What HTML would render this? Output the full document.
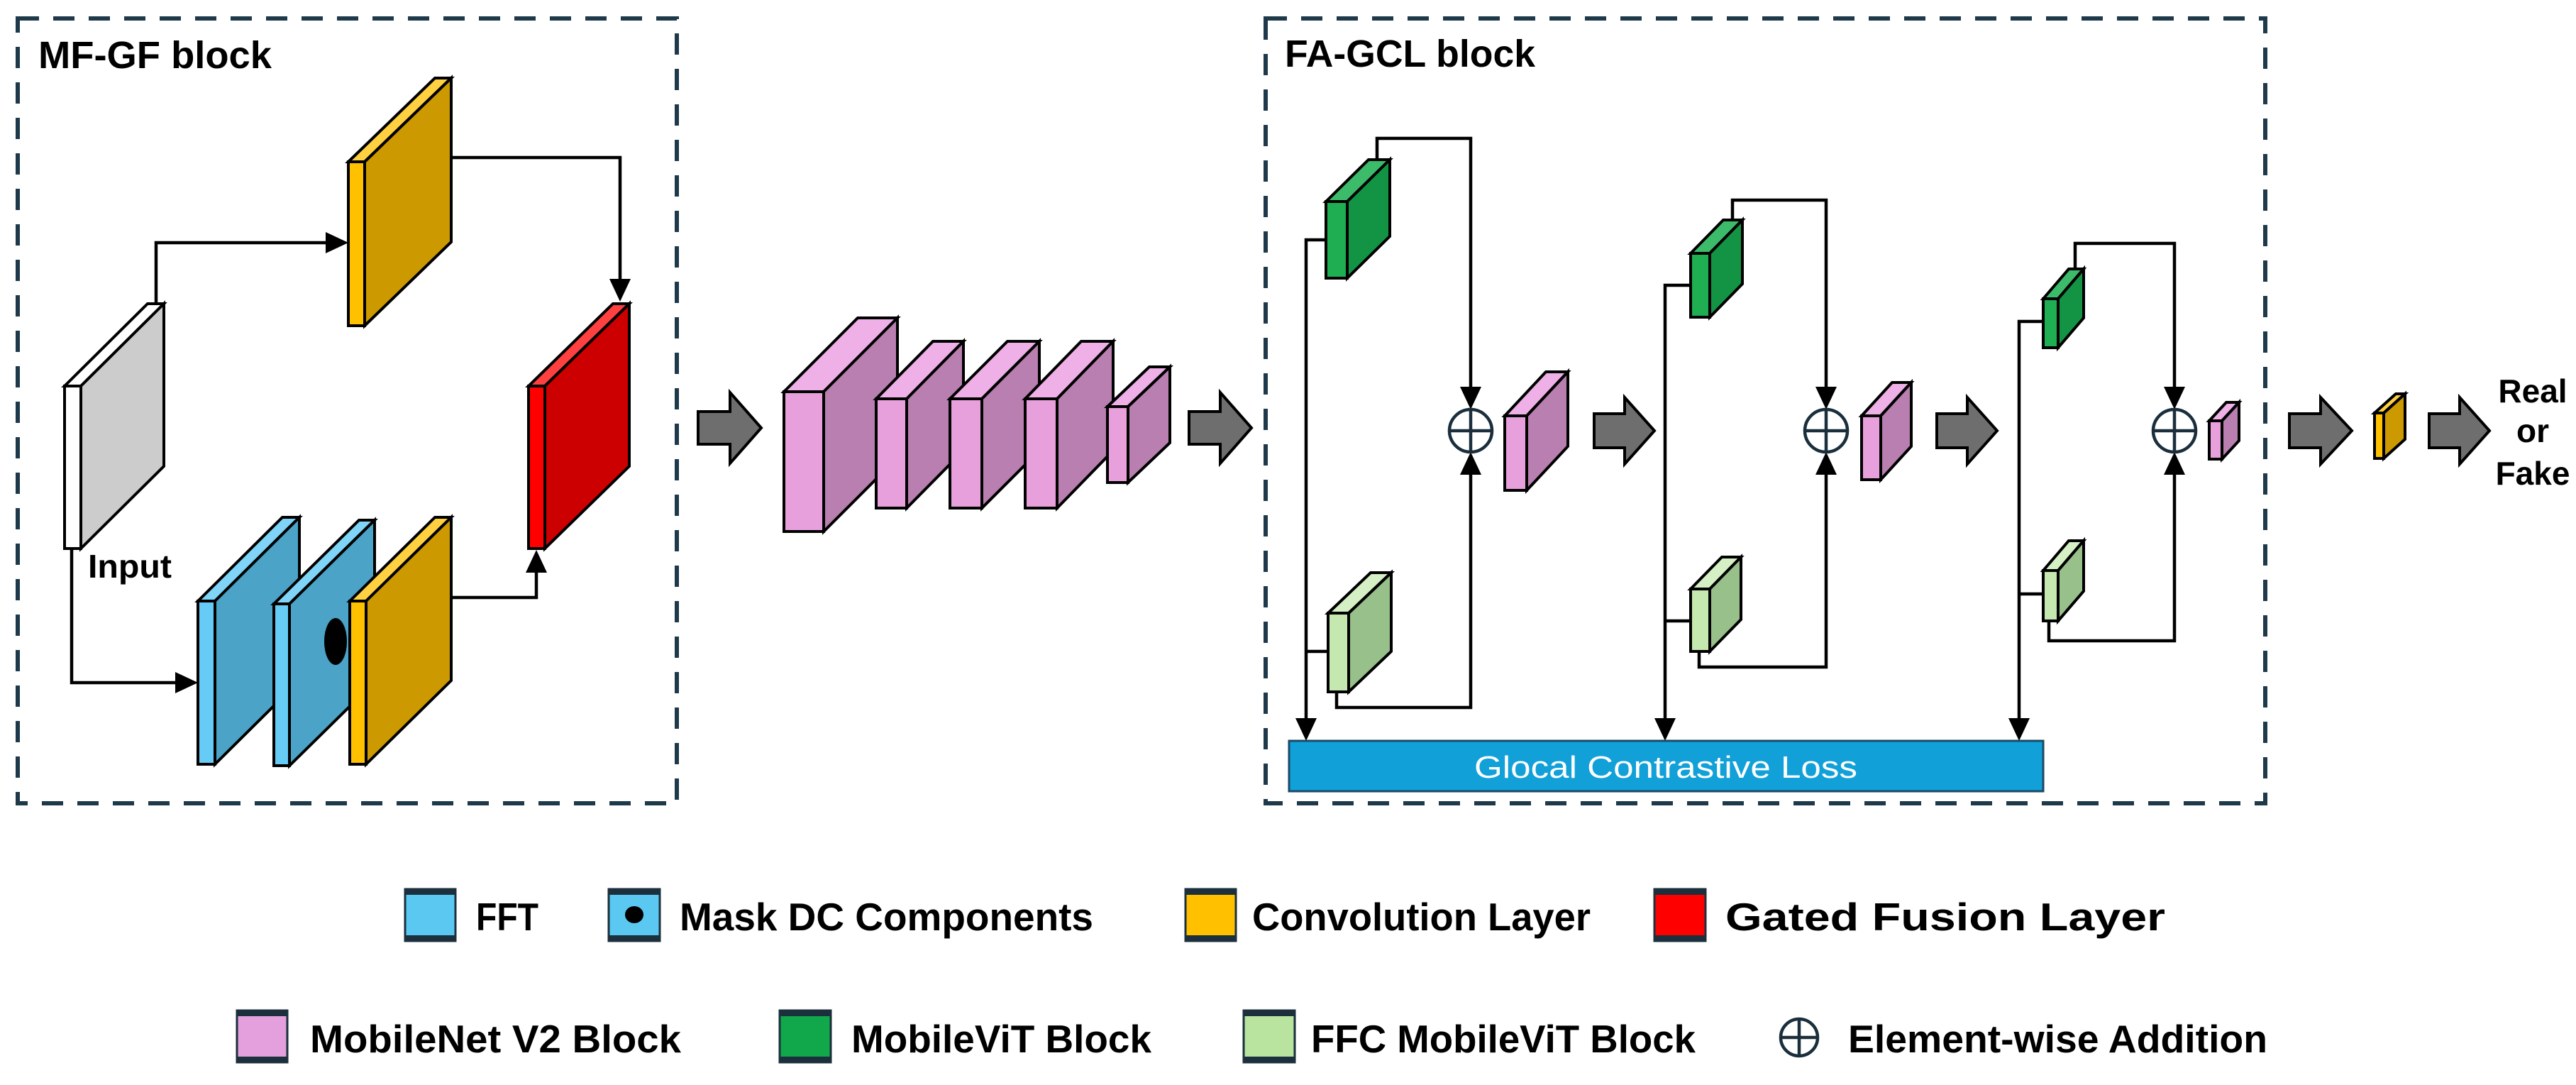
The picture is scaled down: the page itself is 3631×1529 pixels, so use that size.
<!DOCTYPE html>
<html><head><meta charset="utf-8"><style>
html,body{margin:0;padding:0;background:#fff;}
svg{display:block;}
text{font-family:"Liberation Sans",sans-serif;font-weight:bold;}
</style></head><body>
<svg width="3631" height="1529" viewBox="0 0 3631 1529" xmlns="http://www.w3.org/2000/svg">
<rect width="3631" height="1529" fill="#fff"/>

<rect x="25" y="26" width="929" height="1106" fill="none" stroke="#1e3a4a" stroke-width="6" stroke-dasharray="30 20"/>
<rect x="1784" y="26" width="1409" height="1106" fill="none" stroke="#1e3a4a" stroke-width="6" stroke-dasharray="30 20"/>
<text x="54" y="96" font-size="54" textLength="329" lengthAdjust="spacingAndGlyphs">MF-GF block</text>
<text x="1811" y="94" font-size="54" textLength="353" lengthAdjust="spacingAndGlyphs">FA-GCL block</text>

<g stroke="#000" stroke-width="4" stroke-linejoin="miter">
<g fill="none" stroke-width="4.5">
<polyline points="220,428 220,342 462,342"/>
<polyline points="636,222 874,222 874,395"/>
<polyline points="101,773 101,962 250,962"/>
<polyline points="636,842 756,842 756,805"/>
</g>
<g fill="#000" stroke="none">
<polygon points="491,342 459,327 459,357"/>
<polygon points="874,425 859,393 889,393"/>
<polygon points="279,962 247,947 247,977"/>
<polygon points="756,775 741,807 771,807"/>
</g>

<polygon points="91,544 208,428 231,428 114,544" fill="#fff"/>
<polygon points="114,544 231,428 231,657 114,773" fill="#cccccc"/>
<rect x="91" y="544" width="23" height="229" fill="#fff"/>
<polygon points="491,228 613,110 636,110 514,228" fill="#ffd040"/>
<polygon points="514,228 636,110 636,341 514,459" fill="#cc9900"/>
<rect x="491" y="228" width="23" height="231" fill="#ffc000"/>
<polygon points="745,544 864,428 887,428 768,544" fill="#ff4040"/>
<polygon points="768,544 887,428 887,657 768,773" fill="#cc0000"/>
<rect x="745" y="544" width="23" height="229" fill="#ff0000"/>
<polygon points="279,847 398,729 422,729 303,847" fill="#7fd4f7"/>
<polygon points="303,847 422,729 422,959 303,1077" fill="#4ba3c7"/>
<rect x="279" y="847" width="24" height="230" fill="#66ccf5"/>
<polygon points="386,851 506,733 528,733 408,851" fill="#7fd4f7"/>
<polygon points="408,851 528,733 528,961 408,1079" fill="#4ba3c7"/>
<rect x="386" y="851" width="22" height="228" fill="#66ccf5"/>
<ellipse cx="473" cy="904" rx="16" ry="33" fill="#000" stroke="none"/>
<polygon points="493,847 613,729 636,729 516,847" fill="#ffd040"/>
<polygon points="516,847 636,729 636,959 516,1077" fill="#cc9900"/>
<rect x="493" y="847" width="23" height="230" fill="#ffc000"/>

<g>
<polygon points="1105,552 1209,448 1265,448 1161,552" fill="#eeb0e6"/>
<polygon points="1161,552 1265,448 1265,645 1161,749" fill="#b87fb0"/>
<rect x="1105" y="552" width="56" height="197" fill="#e8a0dc"/>
<polygon points="1235,562 1315,481 1358,481 1278,562" fill="#eeb0e6"/>
<polygon points="1278,562 1358,481 1358,635 1278,716" fill="#b87fb0"/>
<rect x="1235" y="562" width="43" height="154" fill="#e8a0dc"/>
<polygon points="1339,562 1420,481 1465,481 1384,562" fill="#eeb0e6"/>
<polygon points="1384,562 1465,481 1465,635 1384,716" fill="#b87fb0"/>
<rect x="1339" y="562" width="45" height="154" fill="#e8a0dc"/>
<polygon points="1445,562 1524,481 1569,481 1490,562" fill="#eeb0e6"/>
<polygon points="1490,562 1569,481 1569,635 1490,716" fill="#b87fb0"/>
<rect x="1445" y="562" width="45" height="154" fill="#e8a0dc"/>
<polygon points="1561,573 1620,517 1649,517 1590,573" fill="#eeb0e6"/>
<polygon points="1590,573 1649,517 1649,624 1590,680" fill="#b87fb0"/>
<rect x="1561" y="573" width="29" height="107" fill="#e8a0dc"/>
</g>

<g fill="#6e6e6e" stroke-width="4">
<polygon points="984,580 1029,580 1029,553 1073,603 1029,653 1029,626 984,626"/>
<polygon points="1676,580 1720,580 1720,553 1764,603 1720,653 1720,626 1676,626"/>
<polygon points="2247,583 2290,583 2290,560 2332,607 2290,654 2290,631 2247,631"/>
<polygon points="2730,583 2773,583 2773,560 2815,607 2773,654 2773,631 2730,631"/>
<polygon points="3227,583 3271,583 3271,560 3315,607 3271,654 3271,631 3227,631"/>
<polygon points="3424,583 3467,583 3467,560 3509,607 3467,654 3467,631 3424,631"/>
</g>

<g fill="none" stroke-width="4.5">
<polyline points="1869,338 1841,338 1841,1015"/>
<line x1="1841" y1="918" x2="1872" y2="918"/>
<polyline points="1941,225 1941,195 2073,195 2073,548"/>
<polyline points="1884,975 1884,997 2073,997 2073,666"/>
<polyline points="2383,402 2347,402 2347,1015"/>
<line x1="2347" y1="875" x2="2383" y2="875"/>
<polyline points="2442,310 2442,282 2574,282 2574,548"/>
<polyline points="2395,918 2395,940 2574,940 2574,666"/>
<polyline points="2880,453 2846,453 2846,1015"/>
<line x1="2846" y1="837" x2="2880" y2="837"/>
<polyline points="2925,379 2925,343 3065,343 3065,548"/>
<polyline points="2888,875 2888,903 3065,903 3065,666"/>
</g>
<g fill="#000" stroke="none">
<polygon points="1841,1044 1826,1012 1856,1012"/>
<polygon points="2347,1044 2332,1012 2362,1012"/>
<polygon points="2846,1044 2831,1012 2861,1012"/>
<polygon points="2073,577 2058,545 2088,545"/>
<polygon points="2574,577 2559,545 2589,545"/>
<polygon points="3065,577 3050,545 3080,545"/>
<polygon points="2073,637 2058,669 2088,669"/>
<polygon points="2574,637 2559,669 2589,669"/>
<polygon points="3065,637 3050,669 3080,669"/>
</g>

<g fill="#fff" stroke="#1a2e3b" stroke-width="4.5">
<circle cx="2073" cy="607" r="30"/><line x1="2043" y1="607" x2="2103" y2="607"/><line x1="2073" y1="577" x2="2073" y2="637"/>
<circle cx="2574" cy="607" r="30"/><line x1="2544" y1="607" x2="2604" y2="607"/><line x1="2574" y1="577" x2="2574" y2="637"/>
<circle cx="3065" cy="607" r="30"/><line x1="3035" y1="607" x2="3095" y2="607"/><line x1="3065" y1="577" x2="3065" y2="637"/>
</g>

<polygon points="1869,284 1929,225 1959,225 1899,284" fill="#3cbc6a"/>
<polygon points="1899,284 1959,225 1959,333 1899,392" fill="#139445"/>
<rect x="1869" y="284" width="30" height="108" fill="#1fae52"/>
<polygon points="1872,864 1932,807 1961,807 1901,864" fill="#d5f0c5"/>
<polygon points="1901,864 1961,807 1961,918 1901,975" fill="#97c08a"/>
<rect x="1872" y="864" width="29" height="111" fill="#c5e8b0"/>
<polygon points="2121,586 2179,524 2210,524 2152,586" fill="#eeb0e6"/>
<polygon points="2152,586 2210,524 2210,629 2152,691" fill="#b87fb0"/>
<rect x="2121" y="586" width="31" height="105" fill="#e8a0dc"/>

<polygon points="2383,357 2429,310 2456,310 2410,357" fill="#3cbc6a"/>
<polygon points="2410,357 2456,310 2456,400 2410,447" fill="#139445"/>
<rect x="2383" y="357" width="27" height="90" fill="#1fae52"/>
<polygon points="2383,830 2427,785 2454,785 2410,830" fill="#d5f0c5"/>
<polygon points="2410,830 2454,785 2454,873 2410,918" fill="#97c08a"/>
<rect x="2383" y="830" width="27" height="88" fill="#c5e8b0"/>
<polygon points="2624,586 2667,539 2694,539 2651,586" fill="#eeb0e6"/>
<polygon points="2651,586 2694,539 2694,629 2651,676" fill="#b87fb0"/>
<rect x="2624" y="586" width="27" height="90" fill="#e8a0dc"/>

<polygon points="2880,421 2916,379 2937,379 2901,421" fill="#3cbc6a"/>
<polygon points="2901,421 2937,379 2937,448 2901,490" fill="#139445"/>
<rect x="2880" y="421" width="21" height="69" fill="#1fae52"/>
<polygon points="2880,804 2916,762 2937,762 2901,804" fill="#d5f0c5"/>
<polygon points="2901,804 2937,762 2937,833 2901,875" fill="#97c08a"/>
<rect x="2880" y="804" width="21" height="71" fill="#c5e8b0"/>
<polygon points="3114,593 3138,567 3156,567 3132,593" fill="#eeb0e6"/>
<polygon points="3132,593 3156,567 3156,621 3132,647" fill="#b87fb0"/>
<rect x="3114" y="593" width="18" height="54" fill="#e8a0dc"/>

<polygon points="3347,582 3377,555 3390,555 3360,582" fill="#ffd040"/>
<polygon points="3360,582 3390,555 3390,619 3360,646" fill="#cc9900"/>
<rect x="3347" y="582" width="13" height="64" fill="#ffc000"/>

<rect x="1817" y="1044" width="1063" height="71" fill="#12a0d8" stroke="#1a4a66" stroke-width="3"/>
</g>
<text x="2348" y="1096" font-size="44" fill="#fff" text-anchor="middle" style="font-weight:normal" textLength="540" lengthAdjust="spacingAndGlyphs">Glocal Contrastive Loss</text>

<text x="124" y="814" font-size="46" textLength="118" lengthAdjust="spacingAndGlyphs">Input</text>
<text x="3570" y="567" font-size="46" text-anchor="middle">Real</text>
<text x="3570" y="623" font-size="46" text-anchor="middle">or</text>
<text x="3570" y="683" font-size="46" text-anchor="middle">Fake</text>

<g stroke="#1b2f3d" stroke-width="3">
<rect x="571" y="1253" width="71" height="73" fill="#5bc8f2"/>
<rect x="858" y="1253" width="72" height="73" fill="#5bc8f2"/>
<rect x="1671" y="1253" width="71" height="73" fill="#ffc000"/>
<rect x="2332" y="1253" width="72" height="73" fill="#ff0000"/>
<rect x="334" y="1424" width="71" height="73" fill="#e3a0dc"/>
<rect x="1099" y="1424" width="72" height="73" fill="#10a84a"/>
<rect x="1753" y="1424" width="72" height="73" fill="#b8e4a0"/>
</g>
<g fill="#1b2f3d">
<rect x="571" y="1252" width="71" height="9"/><rect x="571" y="1318" width="71" height="9"/>
<rect x="858" y="1252" width="72" height="9"/><rect x="858" y="1318" width="72" height="9"/>
<rect x="1671" y="1252" width="71" height="9"/><rect x="1671" y="1318" width="71" height="9"/>
<rect x="2332" y="1252" width="72" height="9"/><rect x="2332" y="1318" width="72" height="9"/>
<rect x="334" y="1423" width="71" height="9"/><rect x="334" y="1489" width="71" height="9"/>
<rect x="1099" y="1423" width="72" height="9"/><rect x="1099" y="1489" width="72" height="9"/>
<rect x="1753" y="1423" width="72" height="9"/><rect x="1753" y="1489" width="72" height="9"/>
</g>
<ellipse cx="894" cy="1289" rx="13" ry="12" fill="#000"/>
<g fill="none" stroke="#1a2e3b" stroke-width="4.5">
<circle cx="2536" cy="1462" r="26"/>
<line x1="2510" y1="1462" x2="2562" y2="1462"/><line x1="2536" y1="1436" x2="2536" y2="1488"/>
</g>
<g font-size="55">
<text x="671" y="1311" textLength="88" lengthAdjust="spacingAndGlyphs">FFT</text>
<text x="958" y="1311" textLength="583" lengthAdjust="spacingAndGlyphs">Mask DC Components</text>
<text x="1765" y="1311" textLength="477" lengthAdjust="spacingAndGlyphs">Convolution Layer</text>
<text x="2432" y="1311" textLength="620" lengthAdjust="spacingAndGlyphs">Gated Fusion Layer</text>
<text x="437" y="1483" textLength="523" lengthAdjust="spacingAndGlyphs">MobileNet V2 Block</text>
<text x="1200" y="1483" textLength="423" lengthAdjust="spacingAndGlyphs">MobileViT Block</text>
<text x="1848" y="1483" textLength="542" lengthAdjust="spacingAndGlyphs">FFC MobileViT Block</text>
<text x="2605" y="1483" textLength="591" lengthAdjust="spacingAndGlyphs">Element-wise Addition</text>
</g>
</svg>
</body></html>
